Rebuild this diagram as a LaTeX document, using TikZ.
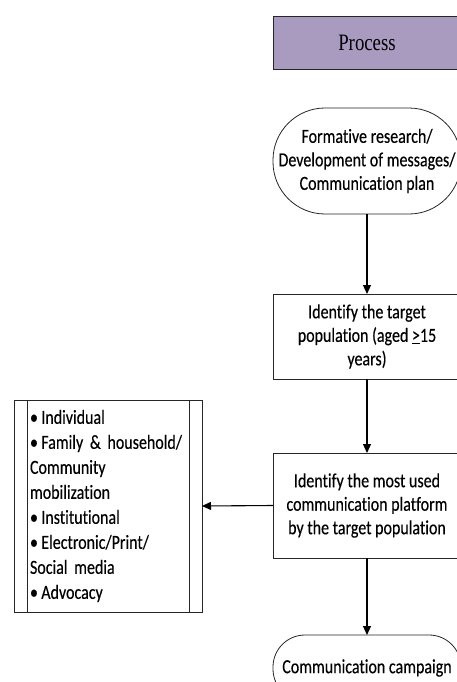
\documentclass[tikz,border=0pt]{standalone}
\usepackage{fontspec}
\setmainfont{Carlito}[FakeStretch=0.8, FakeBold=0.3, Ligatures=NoCommon]
\newfontfamily\flowHeadFont{Liberation Serif}[FakeStretch=0.8]
\usetikzlibrary{arrows.meta}
\definecolor{flowHead}{HTML}{A99AC0}
\definecolor{flowLine}{HTML}{262626}
\tikzset{
  flow diagram/.style={
    x=1pt, y=-1pt, line width=0.8pt,
    >={Triangle[length=9pt,width=8pt]},
    every node/.style={font=\fontsize{20}{23.5}\selectfont,
      text=black, inner sep=0pt, outer sep=0pt}
  },
  flow box/.style={draw=flowLine, minimum width=188pt, align=center},
  flow term/.style={flow box, rounded corners=#1},
  flow arrow/.style={->, line width=1.1pt, draw=black}
}

\begin{document}
\begin{tikzpicture}[flow diagram]
    \useasboundingbox (0,0) rectangle (457,682);
    \node[flow box, fill=flowHead, minimum height=53pt,
      font=\flowHeadFont\fontsize{23.5}{27}\selectfont] (head) at (367,42.5) {Process};
    \node[flow term=52pt, minimum height=106pt] (research) at (367,161)
      {Formative research/\\Development of messages/\\Communication plan};
    \node[flow box, minimum height=85pt] (target) at (367,336.5)
      {Identify the target\\population (aged \underline{>}15\\years)};
    \node[flow box, minimum height=105pt] (platform) at (367,505.5)
      {Identify the most used\\communication platform\\by the target population};
    \node[flow term=32pt, minimum height=66pt] (campaign) at (367,668)
      {Communication campaign};
    \node[draw=flowLine, minimum width=188pt, minimum height=212pt,
      text width=156pt, align=left, font=\fontsize{20}{25}\selectfont] (channels) at (108,506)
      {•\,Individual\\•\,Family \& household/\\Community\\mobilization\\•\,Institutional\\%
       •\,Electronic/Print/\\Social media\\•\,Advocacy};
    \draw[flowLine] ([xshift=13pt]channels.north west) -- ([xshift=13pt]channels.south west);
    \draw[flowLine] ([xshift=-13pt]channels.north east) -- ([xshift=-13pt]channels.south east);
    \draw[flow arrow] (research) -- (target);
    \draw[flow arrow] (target) -- (platform);
    \draw[flow arrow] (platform) -- (campaign);
    \draw[flow arrow] (platform.west) -- (channels.east);
  \end{tikzpicture}
\end{document}
